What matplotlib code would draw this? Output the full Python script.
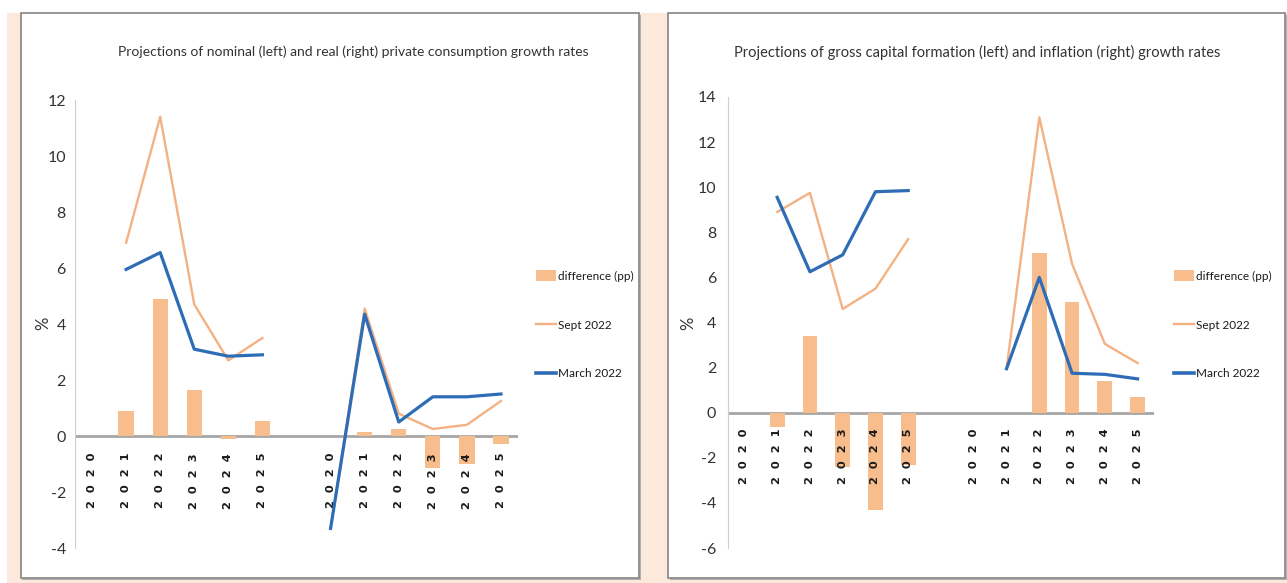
import numpy as np
import matplotlib
matplotlib.use("Agg")
import matplotlib.pyplot as plt
from matplotlib.patches import Rectangle, Patch
from matplotlib.lines import Line2D

nan = np.nan

years = ['2020', '2021', '2022', '2023', '2024', '2025']

# private consumption: nominal (left group) and real (right group), %
nominal_sept = [nan, 6.9, 11.4, 4.7, 2.7, 3.5]
nominal_march = [nan, 5.95, 6.55, 3.1, 2.85, 2.9]
nominal_diff = [nan, 0.9, 4.9, 1.65, -0.1, 0.55]
real_sept = [-3.3, 4.55, 0.8, 0.25, 0.4, 1.25]
real_march = [-3.3, 4.35, 0.5, 1.4, 1.4, 1.5]
real_diff = [nan, 0.15, 0.25, -1.15, -1.0, -0.3]

# gross capital formation (left group) and inflation (right group), %
gcf_sept = [nan, 8.9, 9.75, 4.6, 5.5, 7.7]
gcf_march = [nan, 9.55, 6.25, 7.0, 9.8, 9.85]
gcf_diff = [nan, -0.62, 3.4, -2.4, -4.3, -2.3]
infl_sept = [nan, 1.95, 13.1, 6.6, 3.05, 2.2]
infl_march = [nan, 1.95, 6.0, 1.75, 1.7, 1.5]
infl_diff = [nan, nan, 7.1, 4.9, 1.4, 0.7]

ORANGE = '#F4B183'
BAR = '#F7BD8C'
BLUE = '#2E6DB6'
PEACH = '#FDE9DC'
TXT = '#333333'
FONT = ['Lato', 'DejaVu Sans']

W, H = 1287, 583
fig = plt.figure(figsize=(W / 100, H / 100), dpi=100)
fig.patch.set_facecolor('white')


def px_box(x0, y0, x1, y1):
    # pixel box (top-left origin) -> figure fraction rect
    return [x0 / W, 1 - y1 / H, (x1 - x0) / W, (y1 - y0) / H]


# peach backdrop and the two framed panels
fig.add_artist(Rectangle((7 / W, 0), 1, 1 - 13 / H, transform=fig.transFigure,
                         facecolor=PEACH, edgecolor='none', zorder=-3))
for x0, x1 in [(21, 639), (668, 1285)]:
    fig.add_artist(Rectangle((x0 / W + 1.5 / W, 5 / H - 1.5 / H), (x1 - x0) / W, 1 - 18 / H,
                             transform=fig.transFigure, facecolor='#B0B0B0',
                             edgecolor='none', zorder=-2))
    fig.add_artist(Rectangle((x0 / W, 5 / H), (x1 - x0) / W, 1 - 18 / H,
                             transform=fig.transFigure, facecolor='white',
                             edgecolor='#8E8E8E', linewidth=1.3, zorder=-1))


def panel(rect, left, right, ylim, yticks, title, title_x, title_size,
          ylabel_x, legend_x, label_off, ypad):
    ax = fig.add_axes(rect)
    ax.set_facecolor('none')
    xs = np.arange(13)
    sept = list(left[0]) + [nan] + list(right[0])
    march = list(left[1]) + [nan] + list(right[1])
    diff = list(left[2]) + [nan] + list(right[2])
    labels = years + [''] + years

    ax.bar(xs, np.nan_to_num(diff), width=0.45, color=BAR, zorder=2)
    ax.axhline(0, color='#A6A6A6', linewidth=2, zorder=1)
    ax.plot(xs, sept, color=ORANGE, linewidth=1.7, zorder=3)
    ax.plot(xs, march, color=BLUE, linewidth=2.3, zorder=4)

    ax.set_xlim(-0.5, 12.5)
    ax.set_ylim(*ylim)
    ax.set_yticks(yticks)
    ax.set_yticklabels([str(t) for t in yticks], family=FONT, fontsize=11.5, color=TXT)
    ax.tick_params(axis='y', length=0, pad=ypad)
    ax.set_xticks([])
    for s in ['top', 'right', 'bottom']:
        ax.spines[s].set_visible(False)
    ax.spines['left'].set_color('#D0D0D0')
    ax.spines['left'].set_linewidth(0.8)

    for x, lab in zip(xs, labels):
        if lab:
            ax.annotate('  '.join(lab), (x, 0), xytext=(0, -label_off),
                        textcoords='offset pixels', rotation=90, ha='center', va='top',
                        fontsize=8.2, fontweight='bold', color='#1A1A1A',
                        family='DejaVu Sans')

    fig.text(title_x / W, 1 - 52 / H, title, ha='center', va='center',
             family=FONT, fontsize=title_size, color=TXT)
    fig.text(ylabel_x / W, 1 - 323 / H, '%', rotation=90, ha='center', va='center',
             family=FONT, fontsize=12, color=TXT)

    handles = [Patch(facecolor=BAR, edgecolor='none'),
               Line2D([], [], color=ORANGE, linewidth=1.7),
               Line2D([], [], color=BLUE, linewidth=2.6)]
    ax.legend(handles, ['difference (pp)', 'Sept 2022', 'March 2022'],
              loc='upper left', bbox_to_anchor=(legend_x / W, 1 - 270 / H),
              bbox_transform=fig.transFigure, frameon=False,
              prop={'family': FONT, 'size': 8.5}, handlelength=1.7,
              handleheight=1.1, handletextpad=0.2, labelspacing=3.15,
              borderaxespad=0, borderpad=0)
    for t in ax.get_legend().get_texts():
        t.set_color('#1A1A1A')
    return ax


panel(px_box(75, 100, 518, 548),
      (nominal_sept, nominal_march, nominal_diff),
      (real_sept, real_march, real_diff),
      (-4, 12), list(range(-4, 13, 2)),
      'Projections of nominal (left) and real (right) private consumption growth rates',
      353, 10.0, 43, 536, 17, 6.5)

panel(px_box(728, 97, 1154, 548),
      (gcf_sept, gcf_march, gcf_diff),
      (infl_sept, infl_march, infl_diff),
      (-6, 14), list(range(-6, 15, 2)),
      'Projections of gross capital formation (left) and inflation (right) growth rates',
      977, 10.5, 688, 1174, 16, 8.5)

fig.savefig('out.png', dpi=100)
